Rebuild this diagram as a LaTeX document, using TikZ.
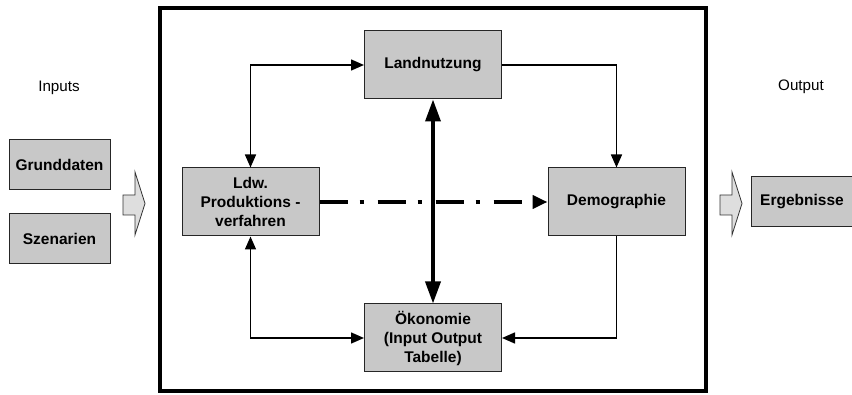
\documentclass[tikz,border=0pt]{standalone}
\usepackage{fontspec}
\setmainfont{Liberation Sans}
\usetikzlibrary{arrows.meta, positioning}
\definecolor{boxgray}{RGB}{200,200,200}
\definecolor{pfeilgray}{RGB}{222,222,222}
\tikzset{
	>={Triangle[length=13pt,width=11pt]},
	box/.style={draw=black!85, line width=1pt, fill=boxgray, align=center, inner sep=0pt,
		font=\fontsize{15.5}{19}\selectfont\bfseries},
	modul/.style={box, minimum width=137pt, minimum height=68pt},
	daten/.style={box, minimum width=101pt, minimum height=50pt},
	label/.style={font=\fontsize{15.2}{19}\selectfont},
	link/.style={line width=1.5pt},
	biglink/.style={line width=3.5pt, >={Triangle[length=22pt,width=15pt]}},
	dashlink/.style={line width=4pt, dash pattern=on 28pt off 12pt on 4pt off 14pt,
		>={Triangle[length=15pt,width=13pt]}}
}
% block arrow, #1 = left end of the shaft
\newcommand{\blockpfeil}[1]{
	\filldraw[fill=pfeilgray, draw=black!80, line width=0.8pt, shift={(#1,0)}]
	(0,195) -- (12,195) -- (12,172) -- (22,203.5) -- (12,235) -- (12,215) -- (0,215) -- cycle;
}

\begin{document}
\begin{tikzpicture}[x=1pt, y=-1pt]
	\useasboundingbox (0,0) rectangle (852,395);
	
	\draw[line width=4pt] (160,8) rectangle (706,391);
	
	\node[label] (inputs) at (59,88) {Inputs};
	\node[label] (output) at (801,87) {Output};
	
	\node[daten] (grund) at (59.5,165) {Grunddaten};
	\node[daten, below=23pt of grund] (szen) {Szenarien};
	\node[daten] (erg) at (802,202) {Ergebnisse};
	
	\node[modul] (land) at (433,65) {Landnutzung};
	\node[modul] (ldw) at (250.5,202) {Ldw.\\Produktions -\\verfahren};
	\node[modul, right=228pt of ldw] (demo) {Demographie};
	\node[modul] (oeko) at (433,338) {Ökonomie\\(Input Output\\Tabelle)};
	
	\blockpfeil{123}
	\blockpfeil{720}
	
	\draw[link, <->] (land.west) -| (ldw.north);
	\draw[link, ->] (land.east) -| (demo.north);
	\draw[link, ->] (demo.south) |- (oeko.east);
	\draw[link, <->] (ldw.south) |- (oeko.west);
	\draw[biglink, <->] (land.south) -- (oeko.north);
	\draw[dashlink, ->] (ldw.east) -- (demo.west);
\end{tikzpicture}
\end{document}
